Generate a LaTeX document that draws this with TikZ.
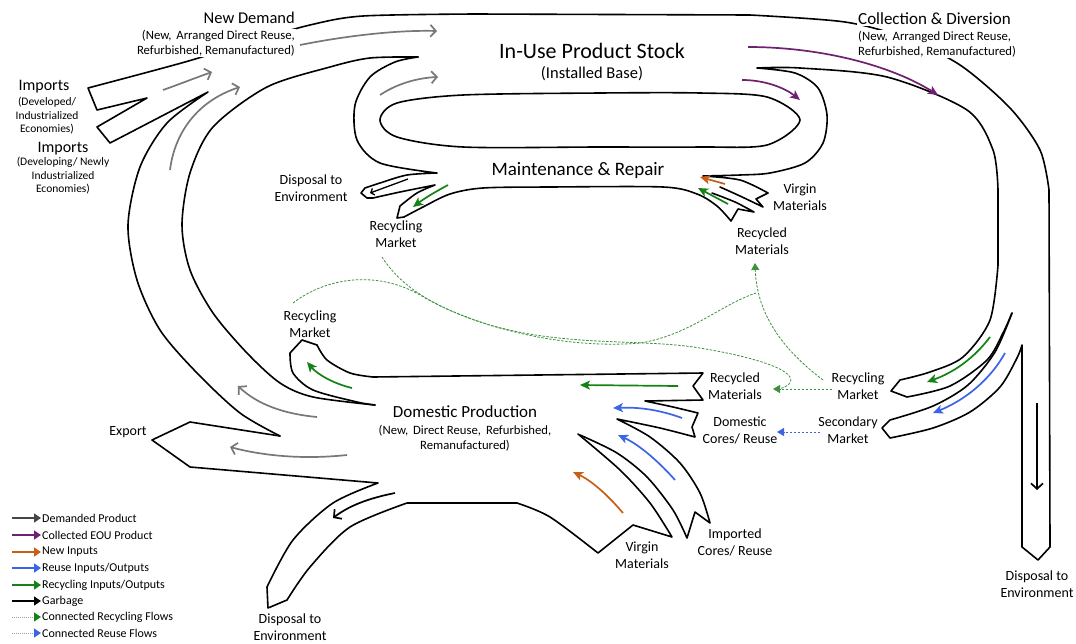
\documentclass[tikz,border=0pt]{standalone}
\usepackage{fontspec}
\setmainfont{Carlito}
\usetikzlibrary{arrows.meta}
\definecolor{cgray}{RGB}{120,120,120}
\definecolor{cdgray}{RGB}{70,70,70}
\definecolor{cpurple}{RGB}{112,32,112}
\definecolor{corange}{RGB}{200,95,25}
\definecolor{cblue}{RGB}{60,100,230}
\definecolor{cgreen}{RGB}{20,130,20}
\definecolor{cdash}{RGB}{60,145,60}
\definecolor{cdotted}{RGB}{150,160,180}
\begin{document}
\begin{tikzpicture}[x=1pt,y=-1pt,
  band/.style={line width=1.6pt, line join=round, line cap=round},
  gflow/.style={line width=1.7pt, cgray, -{Straight Barb[length=5.5pt,width=12pt]}},
  cflow/.style={line width=1.7pt, #1, -{Stealth[length=10pt,width=9pt,inset=2.5pt]}},
  kflow/.style={line width=1.7pt, black, -{Straight Barb[length=5.5pt,width=12pt]}},
  dflow/.style={line width=0.8pt, #1, dash pattern=on 2.5pt off 1.5pt},
  dtip/.style={-{Triangle[length=7pt,width=8pt]}},
  lab/.style={font=\fontsize{14}{17}\selectfont, align=center, inner sep=1pt},
  sub/.style={font=\fontsize{12.7}{15.5}\selectfont, inner sep=1pt},
  head/.style={font=\fontsize{16.5}{19}\selectfont, inner sep=1pt},
  leg/.style={line width=1.4pt, -{Triangle[length=7pt,width=9pt]}},
  legt/.style={anchor=west, font=\fontsize{12}{14}\selectfont, inner sep=1pt},
]
\path[use as bounding box, fill=white] (0,0) rectangle (1076,643);

% ---------- oval (hole of in-use stock) ----------
\draw[band] plot[smooth cycle, tension=0.5] coordinates{(463,95)(600,93)(700,93)(767,97)(800,120)(767,145)(700,147)(600,147)(463,147)(397,137)(380,120)(397,103)};

% ---------- outer line: left arc, imports tails, top, right, disposal, secondary ----------
\draw[band] plot[smooth,tension=0.5] coordinates {(280,436)(240,413)(197,373)(160,330)(137,280)(128,225)(140,167)(167,123)(208,92)}
  -- (110,143) -- (97,127) -- (147,98) -- (97,110) -- (88,88)
  -- plot[smooth,tension=0.5] coordinates {(88,88)(185,62)(250,42)(310,25)(363,16)(475,14)} -- (750,15)
  -- plot[smooth,tension=0.5] coordinates {(750,15)(845,22)(905,38)(960,65)(1010,108)(1040,150)(1049,190)}
  -- (1050,547) -- (1038,560) -- (1022,547) -- (1022,345)
  -- plot[smooth,tension=0.5] coordinates {(1022,345)(1017,358)(1000,387)(970,412)(933,428)(890,438)}
  -- (882,428) -- plot[smooth,tension=0.5] coordinates {(890,420)(933,406)(968,385)(995,352)(1012,313)};

% ---------- recycling band (right), inner right line, right C-line, virgin (maint.) ----------
\draw[band] plot[smooth,tension=0.5] coordinates {(1012,313)(1003,333)(987,360)(950,386)(907,397)}
  -- (891,391) -- plot[smooth,tension=0.5] coordinates {(900,380)(930,372)(963,357)(990,320)(998,265)}
  -- (998,190) -- plot[smooth,tension=0.5] coordinates {(998,190)(993,150)(967,110)(887,77)(800,68)(757,68)}
  -- plot[smooth,tension=0.5] coordinates {(757,68)(795,73)(818,88)(827,115)(823,143)(805,163)(770,173)(740,175)(703,176)}
  -- plot[smooth,tension=0.5] coordinates {(703,176)(740,180)(768,193)}
  -- (756,199) -- (763,207) -- plot[smooth,tension=0.5] coordinates {(763,207)(740,196)(720,187)};

% ---------- left C-line, disposal (maint.), recycling market, maintenance bottom ----------
\draw[band] plot[smooth,tension=0.5] coordinates {(418,57)(395,62)(370,77)(355,105)(357,140)(380,163)(437,173)}
  -- plot[smooth,tension=0.5] coordinates {(437,173)(407,175)(380,183)(365,188)}
  -- (361,193) -- (367,198) -- plot[smooth,tension=0.5] coordinates {(373,198)(400,192)(435,185)}
  -- plot[smooth,tension=0.5] coordinates {(435,185)(417,193)(400,206)}
  -- (397,218) -- (404,217)
  -- plot[smooth,tension=0.5] coordinates {(404,217)(423,207)(450,194)(483,188)(550,187)(663,187)(697,194)(717,206)(731,221)}
  -- (738,209) -- (754,212) -- plot[smooth,tension=0.5] coordinates {(754,212)(735,202)(712,193)};

% ---------- second left arc ----------
\draw[band] plot[smooth,tension=0.5] coordinates {(418,57)(370,58)(330,67)(267,87)(213,127)(190,173)(182,225)(190,270)(213,313)(247,353)(280,383)(313,397)(375,405)};

% ---------- domestic production top, branches ----------
\draw[band] plot[smooth,tension=0.5] coordinates {(375,405)(357,402)(313,390)(293,373)(290,353)}
  -- (302,340) -- plot[smooth,tension=0.5] coordinates {(317,345)(327,360)(350,373)(373,377)}
  -- (703,373) -- (693,386) -- (703,400) -- (645,401)
  -- plot[smooth,tension=0.5] coordinates {(645,401)(673,407)(698,413)}
  -- (692,427) -- plot[smooth,tension=0.5] coordinates {(695,437)(660,428)(617,419)}
  -- plot[smooth,tension=0.5] coordinates {(617,419)(650,437)(680,463)(700,493)(710,523)}
  -- (695,512) -- (687,538)
  -- plot[smooth,tension=0.5] coordinates {(687,538)(673,510)(647,477)(617,453)(580,435)};

% ---------- export, disposal (bottom), virgin (bottom) ----------
\draw[band] (280,436) -- (190,422) -- (152,440) -- (190,467) -- (378,483)
  -- plot[smooth,tension=0.5] coordinates {(378,483)(333,503)(293,540)(267,587)}
  -- (268,608) -- plot[smooth,tension=0.5] coordinates {(287,600)(310,567)(350,527)(407,503)}
  -- (517,503) -- plot[smooth,tension=0.5] coordinates {(517,503)(550,517)(598,553)}
  -- (633,525) -- (672,537)
  -- plot[smooth,tension=0.5] coordinates {(672,537)(650,503)(620,470)(578,434)};

% ---------- flow arrows ----------
\draw[gflow] (300,45) .. controls (350,35) and (400,30) .. (437,31);
\draw[gflow] (163,90) .. controls (180,84) and (195,78) .. (212,72);
\draw[gflow] (170,170) .. controls (175,130) and (200,100) .. (240,87);
\draw[gflow] (380,95) .. controls (395,85) and (415,78) .. (438,77);
\draw[gflow] (317,417) .. controls (285,414) and (258,405) .. (238,386);
\draw[gflow] (347,455) .. controls (300,460) and (260,455) .. (230,447);

\draw[cflow=cpurple] (748,47) .. controls (820,47) and (890,65) .. (938,95);
\draw[cflow=cpurple] (742,80) .. controls (765,80) and (785,88) .. (800,100);

\draw[cflow=corange] (725,184) -- (700,177);
\draw[cflow=corange] (623,513) .. controls (605,492) and (590,480) .. (573,472);

\draw[cflow=cgreen] (728,204) -- (698,188);
\draw[cflow=cgreen] (448,185) .. controls (435,192) and (425,198) .. (413,207);
\draw[cflow=cgreen] (352,388) .. controls (335,384) and (318,375) .. (307,362);
\draw[cflow=cgreen] (678,386) -- (580,385);
\draw[cflow=cgreen] (990,337) .. controls (975,357) and (955,372) .. (927,382);

\draw[cflow=cblue] (682,418) .. controls (660,410) and (640,407) .. (613,408);
\draw[cflow=cblue] (675,480) .. controls (660,463) and (640,445) .. (618,435);
\draw[cflow=cblue] (1005,353) .. controls (990,380) and (965,400) .. (933,413);

\draw[kflow] (395,493) .. controls (370,498) and (350,505) .. (333,518);
\draw[kflow] (1037,403) -- (1037,490);
\draw[kflow, line width=1.3pt, -{Straight Barb[length=3pt,width=7pt]}] (408,179) -- (370,193);

% ---------- dashed connected flows ----------
\draw[dflow=cdash, dtip] (823,380) .. controls (790,355) and (757,320) .. (755,263);
\draw[dflow=cdash] (293,303) .. controls (330,275) and (380,272) .. (420,295) .. controls (470,325) and (560,350) .. (640,343) .. controls (690,335) and (720,305) .. (756,293);
\draw[dflow=cdash] (382,257) .. controls (400,285) and (430,305) .. (480,322) .. controls (560,348) and (640,338) .. (700,348) .. controls (760,358) and (800,372) .. (789,384) .. controls (786,387) and (781,389) .. (776,389);
\draw[dflow=cdash, dtip] (832,389) -- (773,389);
\draw[dflow=cblue, dtip] (820,432) -- (777,432);

% ---------- texts ----------
\node[head, anchor=east, fill=white] (nd) at (296,18) {New Demand};
\node[sub, anchor=east, align=right, fill=white] (ndsub) at (296,43) {(New,\, Arranged Direct Reuse,\\Refurbished, Remanufactured)};
\node[head, font=\fontsize{17}{19}\selectfont, anchor=west, fill=white] (cd) at (857,19) {Collection \& Diversion};
\node[sub, anchor=west, align=left, fill=white] (cdsub) at (857,44) {(New,\, Arranged Direct Reuse,\\Refurbished, Remanufactured)};
\node[font=\fontsize{22}{25}\selectfont, inner sep=1pt] (ius) at (592,51) {In-Use Product Stock};
\node[font=\fontsize{16.5}{18}\selectfont, inner sep=1pt] (ib) at (592,74) {(Installed Base)};
\node[font=\fontsize{19}{22}\selectfont, inner sep=1pt] (mr) at (578,170) {Maintenance \& Repair};

\node[head, font=\fontsize{16}{19}\selectfont] (imp1) at (44,87) {Imports};
\node[font=\fontsize{11.5}{13.5}\selectfont, align=center, inner sep=1pt] (imp1s) at (47,116) {(Developed/\\Industrialized\\Economies)};
\node[head, font=\fontsize{16}{19}\selectfont] (imp2) at (63,149) {Imports};
\node[font=\fontsize{11.5}{13.5}\selectfont, align=center, inner sep=1pt] (imp2s) at (63,176) {(Developing/ Newly\\Industrialized\\Economies)};

\node[lab] (disp1) at (311,188) {Disposal to\\Environment};
\node[lab] (rm1) at (396,234) {Recycling\\Market};
\node[lab] (vm1) at (800,197) {Virgin\\Materials};
\node[lab] (rcm1) at (762,241) {Recycled\\Materials};
\node[lab] (rm2) at (310,324) {Recycling\\Market};
\node[lab] (rcm2) at (735,386) {Recycled\\Materials};
\node[lab] (dcr) at (740,430) {Domestic\\Cores/ Reuse};
\node[lab] (rm3) at (858,386) {Recycling\\Market};
\node[lab] (sm) at (848,430) {Secondary\\Market};
\node[head, font=\fontsize{17}{19}\selectfont] (dp) at (465,412) {Domestic Production};
\node[sub, align=center] (dpsub) at (465,438) {(New,\, Direct Reuse,\, Refurbished,\\Remanufactured)};
\node[lab] (exp) at (128,432) {Export};
\node[lab] (icr) at (735,542) {Imported\\Cores/ Reuse};
\node[lab] (vm2) at (642,555) {Virgin\\Materials};
\node[lab] (disp2) at (290,627) {Disposal to\\Environment};
\node[lab] (disp3) at (1037,584) {Disposal to\\Environment};

% ---------- legend ----------
\draw[leg, cdgray] (12,518) -- (41,518);
\node[legt] (l1) at (41,518) {Demanded Product};
\draw[leg, cpurple] (12,535) -- (41,535);
\node[legt] (l2) at (41,535) {Collected EOU Product};
\draw[leg, corange] (12,552) -- (41,552);
\node[legt] (l3) at (41,552) {New Inputs};
\draw[leg, cblue] (12,568) -- (41,568);
\node[legt] (l4) at (41,568) {Reuse Inputs/Outputs};
\draw[leg, cgreen] (12,585) -- (41,585);
\node[legt] (l5) at (41,585) {Recycling Inputs/Outputs};
\draw[leg, black] (12,601) -- (41,601);
\node[legt] (l6) at (41,601) {Garbage};
\draw[line width=1pt, cdotted, densely dotted, -{Triangle[length=7pt,width=9pt,color=cgreen]}] (12,617) -- (41,617);
\node[legt] (l7) at (41,617) {Connected Recycling Flows};
\draw[line width=1pt, cdotted, densely dotted, -{Triangle[length=7pt,width=9pt,color=cblue]}] (12,633) -- (41,633);
\node[legt] (l8) at (41,633) {Connected Reuse Flows};
\end{tikzpicture}
\end{document}
